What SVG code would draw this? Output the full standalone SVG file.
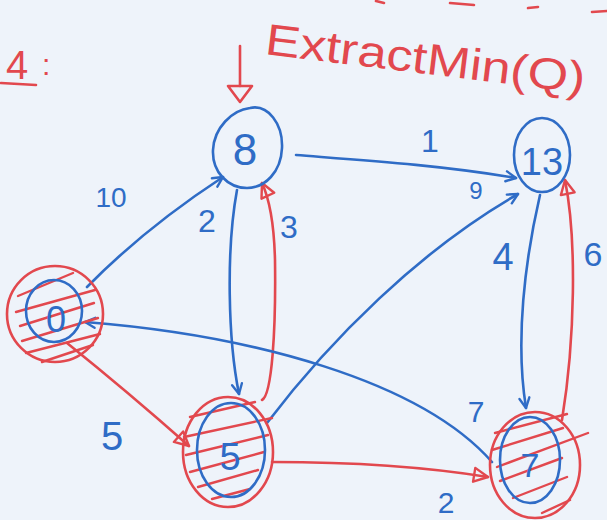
<svg xmlns="http://www.w3.org/2000/svg" width="607" height="520" viewBox="0 0 607 520">
  <style>
    .b { fill: none; stroke: #2f6cc6; stroke-width: 2.6; stroke-linecap: round; stroke-linejoin: round; }
    .r { fill: none; stroke: #e2484e; stroke-width: 2.6; stroke-linecap: round; stroke-linejoin: round; }
    .h { fill: none; stroke: #e2484e; stroke-width: 2.4; stroke-linecap: round; }
    .tb { fill: #2f6cc6; font-family: "Liberation Sans", "DejaVu Sans", sans-serif; text-anchor: middle; }
    .tr { fill: #e2484e; font-family: "Liberation Sans", "DejaVu Sans", sans-serif; }
  </style>
  <defs>
    <marker id="ab" viewBox="0 0 14 14" refX="12" refY="7" markerWidth="14" markerHeight="14" markerUnits="userSpaceOnUse" orient="auto">
      <path d="M2,2 L12,7 L2,12" fill="none" stroke="#2f6cc6" stroke-width="2.4" stroke-linecap="round" stroke-linejoin="round"/>
    </marker>
    <marker id="ar" viewBox="0 0 18 18" refX="16" refY="9" markerWidth="18" markerHeight="18" markerUnits="userSpaceOnUse" orient="auto">
      <path d="M2,2 L16,9 L2,16 Z" fill="none" stroke="#e2484e" stroke-width="2.4" stroke-linejoin="round"/>
    </marker>
  </defs>
  <rect width="607" height="520" fill="#eef3fa"/>

  <!-- heading -->
  <g id="heading">
    <text class="tr" x="6" y="79" font-size="40">4</text>
    <text class="tr" x="42" y="75" font-size="30">:</text>
    <path class="r" d="M1,83 L36,85"/>
    <text class="tr" x="264" y="54" font-size="44" textLength="322" lengthAdjust="spacingAndGlyphs" transform="rotate(7 264 54)">ExtractMin(Q)</text>
    <path class="r" d="M240,46 L240,86"/>
    <path class="r" d="M228,86 L252,86 L240,102 Z"/>
    <path class="r" d="M376,1 L384,3"/>
    <path class="r" d="M450,3 L474,5"/>
    <path class="r" d="M528,8 L538,7"/>
    <path class="r" d="M592,12 L607,11"/>
  </g>

  <!-- connectors -->
  <g id="edges">
    <path class="b" marker-end="url(#ab)" d="M87,287 Q145,228 223,177"/>
    <path class="b" marker-end="url(#ab)" d="M296,155 C360,160 440,165 516,178"/>
    <path class="b" marker-end="url(#ab)" d="M237,190 C226,250 228,340 239,394"/>
    <path class="r" marker-end="url(#ar)" d="M262,400 C272,395 276,330 275,260 C274,220 268,196 262,183"/>
    <path class="b" marker-end="url(#ab)" d="M267,423 C330,340 420,250 518,194"/>
    <path class="b" marker-end="url(#ab)" d="M540,195 C525,260 515,340 526,408"/>
    <path class="r" marker-end="url(#ar)" d="M562,420 C575,340 577,240 565,180"/>
    <path class="b" marker-end="url(#ab)" d="M492,462 C420,380 250,335 85,322"/>
    <path class="r" marker-end="url(#ar)" d="M67,343 Q128,392 189,446"/>
    <path class="r" marker-end="url(#ar)" d="M272,462 C350,462 420,466 488,477"/>
  </g>

  <!-- edge labels -->
  <g id="labels">
    <text class="tb" x="111" y="207" font-size="28">10</text>
    <text class="tb" x="430" y="152" font-size="32">1</text>
    <text class="tb" x="207" y="232" font-size="32">2</text>
    <text class="tb" x="289" y="238" font-size="32">3</text>
    <text class="tb" x="476" y="199" font-size="24">9</text>
    <text class="tb" x="503" y="270" font-size="38">4</text>
    <text class="tb" x="593" y="266" font-size="34">6</text>
    <text class="tb" x="476" y="422" font-size="30">7</text>
    <text class="tb" x="112" y="450" font-size="40">5</text>
    <text class="tb" x="446" y="513" font-size="30">2</text>
  </g>

  <!-- nodes -->
  <g id="node-0">
    <ellipse class="r" cx="55" cy="314" rx="48" ry="48"/>
    <path class="h" d="M18,296 L73,273 M16,312 L95,290 M20,326 L94,303 M22,341 L98,318 M26,353 L100,334 M42,362 L93,345"/>
    <ellipse class="b" cx="54" cy="311" rx="28" ry="31"/>
    <text class="tb" x="56" y="332" font-size="36">0</text>
  </g>

  <g id="node-8">
    <path class="b" d="M250,108 C268,104 283,124 282,148 C281,172 265,188 247,188 C228,188 212,172 213,150 C214,128 232,110 250,108 Z"/>
    <text class="tb" x="245" y="165" font-size="44">8</text>
  </g>

  <g id="node-13">
    <ellipse class="b" cx="542" cy="155" rx="28" ry="37"/>
    <text class="tb" x="542" y="175" font-size="38">13</text>
  </g>

  <g id="node-5">
    <ellipse class="r" cx="228" cy="452" rx="45" ry="55"/>
    <path class="h" d="M190,417 L255,402 M184,437 L272,418 M186,455 L268,435 M190,472 L264,452 M198,487 L258,470 M212,499 L250,489"/>
    <ellipse class="b" cx="231" cy="450" rx="34" ry="47"/>
    <text class="tb" x="230" y="470" font-size="38">5</text>
  </g>

  <g id="node-7">
    <ellipse class="r" cx="535" cy="465" rx="45" ry="53"/>
    <path class="h" d="M495,433 L567,414 M492,450 L563,428 M497,467 L588,433 M500,481 L562,458 M513,498 L567,477 M542,513 L570,500"/>
    <ellipse class="b" cx="530" cy="460" rx="30" ry="43"/>
    <text class="tb" x="530" y="477" font-size="34">7</text>
  </g>
</svg>
